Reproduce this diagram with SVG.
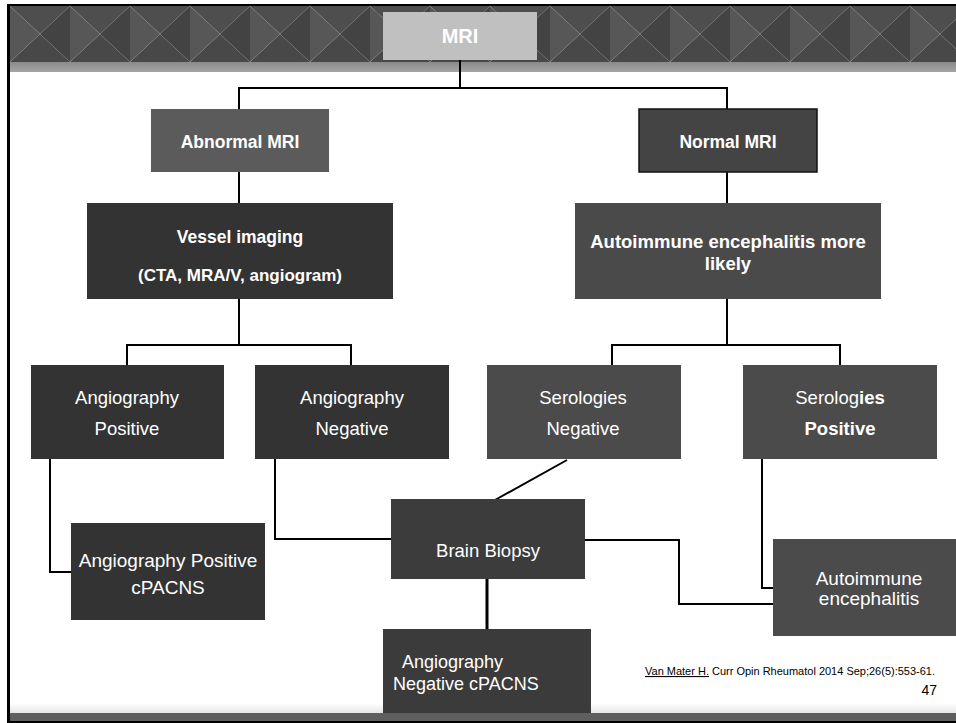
<svg xmlns="http://www.w3.org/2000/svg" width="956" height="723" viewBox="0 0 956 723">
<style>
.box{stroke:none}
.t{font-family:"Liberation Sans",Arial,sans-serif;fill:#ffffff;text-anchor:middle}
.b{font-weight:bold}
.c{fill:none;stroke:#000;stroke-width:2}
</style>
<defs>
<pattern id="tri" x="10" y="6" width="60" height="56" patternUnits="userSpaceOnUse">
<polygon points="0,0 60,0 30,28" fill="#4e4e4e"/>
<polygon points="0,56 60,56 30,28" fill="#484848"/>
<polygon points="0,0 30,28 0,56" fill="#575757"/>
<polygon points="60,0 30,28 60,56" fill="#434343"/>
</pattern>
<linearGradient id="strip" x1="0" y1="0" x2="0" y2="1">
<stop offset="0" stop-color="#8a8a8a"/><stop offset="1" stop-color="#a5a5a5"/>
</linearGradient>
<linearGradient id="foot" x1="0" y1="0" x2="0" y2="1">
<stop offset="0" stop-color="#ffffff"/><stop offset="1" stop-color="#e6e6e6"/>
</linearGradient>
</defs>
<rect x="0" y="0" width="956" height="723" fill="#ffffff"/>
<!-- header -->
<rect x="10" y="6" width="946" height="56" fill="url(#tri)"/>
<rect x="10" y="62" width="946" height="10" fill="url(#strip)"/>
<!-- footer -->
<rect x="10" y="703" width="946" height="10" fill="url(#foot)"/>
<rect x="10" y="713" width="946" height="8" fill="#5f5f5f"/>
<!-- frame -->
<rect x="7" y="4" width="949" height="2" fill="#000"/>
<rect x="7" y="4" width="3" height="719" fill="#000"/>
<rect x="7" y="721" width="949" height="2" fill="#000"/>

<g id="connectors">
<polyline class="c" points="460,60 460,88"/>
<polyline class="c" points="239,109 239,88 727,88 727,109"/>
<line class="c" x1="239" y1="172" x2="239" y2="203"/>
<line class="c" x1="727" y1="172" x2="727" y2="203"/>
<line class="c" x1="239" y1="299" x2="239" y2="345"/>
<polyline class="c" points="127,365 127,345 351,345 351,365"/>
<line class="c" x1="727" y1="299" x2="727" y2="345"/>
<polyline class="c" points="612,365 612,345 840,345 840,365"/>
<polyline class="c" points="50,459 50,572 71,572"/>
<polyline class="c" points="275,459 275,539 391,539"/>
<line class="c" x1="567" y1="460" x2="495" y2="500"/>
<polyline class="c" points="585,540 679,540 679,604 773,604"/>
<polyline class="c" points="762,459 762,588 773,588"/>
<line class="c" x1="487" y1="572" x2="487" y2="629" style="stroke-width:3"/>
</g>

<g id="mri">
<rect class="box" x="383" y="12" width="154" height="48" fill="#c0c0c0"/>
<text class="t b" x="460" y="43" font-size="20">MRI</text>
</g>
<g id="abnormal">
<rect class="box" x="151" y="109" width="178" height="63" fill="#5b5b5b"/>
<text class="t b" x="240" y="148" font-size="17.5">Abnormal MRI</text>
</g>
<g id="normal">
<rect x="639" y="109" width="178" height="63" fill="#444444" stroke="#111" stroke-width="1.5"/>
<text class="t b" x="728" y="148" font-size="17.5">Normal MRI</text>
</g>
<g id="vessel">
<rect class="box" x="87" y="203" width="306" height="96" fill="#333333"/>
<text class="t b" x="240" y="243" font-size="17.5">Vessel imaging</text>
<text class="t b" x="240" y="281" font-size="17">(CTA, MRA/V, angiogram)</text>
</g>
<g id="aemore">
<rect class="box" x="575" y="203" width="306" height="96" fill="#4a4a4a"/>
<text class="t b" x="728" y="248" font-size="18.5">Autoimmune encephalitis more</text>
<text class="t b" x="728" y="270" font-size="18.5">likely</text>
</g>
<g id="angpos">
<rect class="box" x="31" y="365" width="193" height="94" fill="#333333"/>
<text class="t" x="127" y="404" font-size="18.5">Angiography</text>
<text class="t" x="127" y="435" font-size="18.5">Positive</text>
</g>
<g id="angneg">
<rect class="box" x="255" y="365" width="194" height="94" fill="#333333"/>
<text class="t" x="352" y="404" font-size="18.5">Angiography</text>
<text class="t" x="352" y="435" font-size="18.5">Negative</text>
</g>
<g id="serneg">
<rect class="box" x="487" y="365" width="194" height="94" fill="#4b4b4b"/>
<text class="t" x="583" y="404" font-size="18.5">Serologies</text>
<text class="t" x="583" y="435" font-size="18.5">Negative</text>
</g>
<g id="serpos">
<rect class="box" x="743" y="365" width="194" height="94" fill="#4b4b4b"/>
<text class="t" x="840" y="404" font-size="18.5">Serolog<tspan class="b">ies</tspan></text>
<text class="t b" x="840" y="435" font-size="18.5">Positive</text>
</g>
<g id="angposcp">
<rect class="box" x="71" y="523" width="194" height="97" fill="#333333"/>
<text class="t" x="168" y="567" font-size="19">Angiography Positive</text>
<text class="t" x="168" y="594" font-size="19">cPACNS</text>
</g>
<g id="biopsy">
<rect class="box" x="391" y="499" width="194" height="80" fill="#3c3c3c"/>
<text class="t" x="488" y="557" font-size="18.5">Brain Biopsy</text>
</g>
<g id="ae">
<rect class="box" x="773" y="539" width="183" height="97" fill="#4b4b4b"/>
<text class="t" x="869" y="585" font-size="19">Autoimmune</text>
<text class="t" x="869" y="605" font-size="19">encephalitis</text>
</g>
<g id="angnegcp">
<rect class="box" x="383" y="629" width="208" height="84" fill="#3b3b3b"/>
<text class="t" x="402" y="668" font-size="18" style="text-anchor:start">Angiography</text>
<text class="t" x="393" y="690" font-size="18" style="text-anchor:start">Negative cPACNS</text>
</g>
<g id="citation" font-family="'Liberation Sans',Arial,sans-serif" fill="#000">
<text x="645" y="675" font-size="11" textLength="290" lengthAdjust="spacingAndGlyphs"><tspan text-decoration="underline">Van Mater H.</tspan> Curr Opin Rheumatol 2014 Sep;26(5):553-61.</text>
<text x="937" y="695" font-size="14" text-anchor="end">47</text>
</g>
</svg>
